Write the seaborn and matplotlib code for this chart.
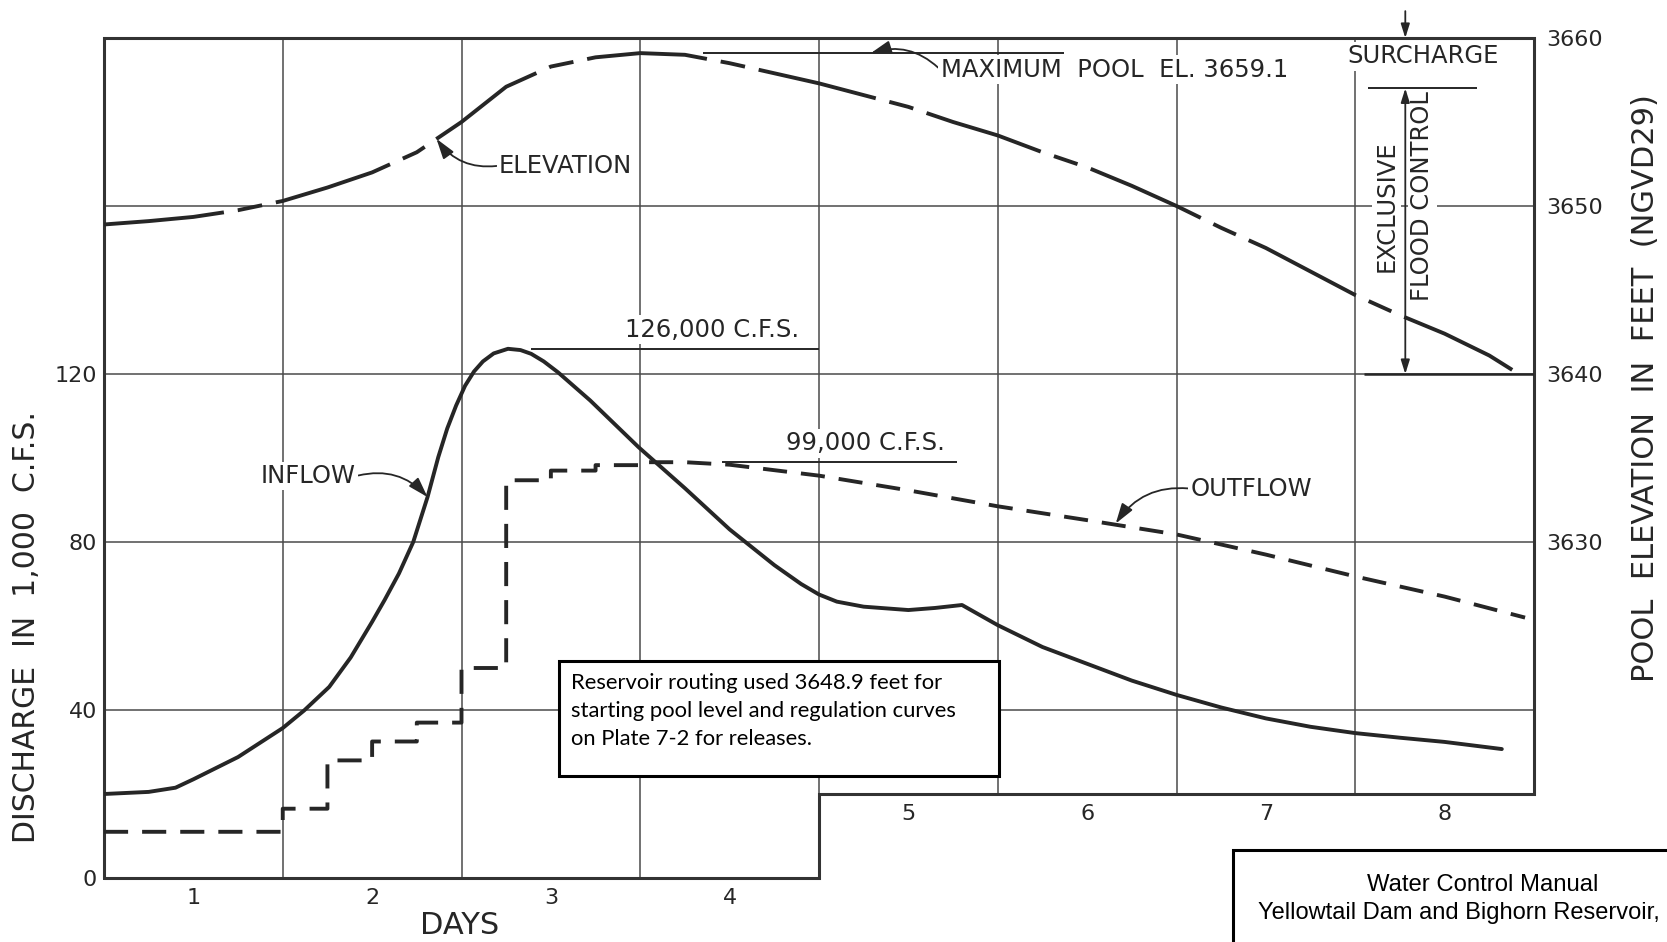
import numpy as np
import matplotlib
matplotlib.use("Agg")
import matplotlib.pyplot as plt
from matplotlib.patches import Rectangle
import seaborn as sns

# ---------------- hydrograph data ----------------
# Inflow, 1,000 c.f.s.
inflow_day = [0.5, 0.75, 0.9, 1.0, 1.25, 1.5, 1.62, 1.76, 1.88, 2.0, 2.07, 2.15, 2.23,
              2.31, 2.37, 2.42, 2.47, 2.52, 2.57, 2.62, 2.68, 2.76, 2.83, 2.89, 2.96,
              3.04, 3.22, 3.49, 3.75, 4.0, 4.25, 4.4, 4.5, 4.6, 4.75, 5.0, 5.15, 5.3,
              5.5, 5.75, 6.0, 6.25, 6.5, 6.75, 7.0, 7.25, 7.5, 7.75, 8.0, 8.32]
inflow_kcfs = [20, 20.5, 21.5, 23.5, 28.8, 35.7, 39.9, 45.5, 52.5, 61, 66.2, 72.5, 80,
               90.7, 100.2, 107, 112.5, 117.2, 120.6, 123, 124.9, 126, 125.7, 124.8, 123,
               120.4, 113.7, 102.6, 92.8, 83, 74.5, 70, 67.5, 65.8, 64.6, 63.8, 64.3, 65,
               60.2, 55, 51, 47, 43.6, 40.6, 38, 36, 34.5, 33.4, 32.4, 30.7]

# Scheduled releases (stepped), 1,000 c.f.s.
release_step_day = [0.5, 1.5, 1.75, 2.0, 2.25, 2.5, 2.75, 3.0, 3.25]
release_step_kcfs = [11, 16.5, 28, 32.5, 37, 50, 94.7, 97, 98.3]
# Outflow after the release schedule levels off, 1,000 c.f.s.
outflow_day = [3.5, 3.75, 4.0, 4.5, 5.0, 5.5, 6.0, 6.5, 7.0, 7.5, 8.0, 8.45]
outflow_kcfs = [99, 99, 98.4, 95.8, 92.3, 88.5, 85.2, 81.8, 77, 71.8, 67, 62]

# Pool elevation, feet
elev_day = [0.5, 0.75, 1.0, 1.25, 1.5, 1.75, 2.0, 2.25, 2.5, 2.75, 3.0, 3.25, 3.5,
            3.75, 4.0, 4.25, 4.5, 4.75, 5.0, 5.25, 5.5, 5.75, 6.0, 6.25, 6.5,
            6.75, 7.0, 7.25, 7.5, 7.75, 8.0, 8.25, 8.4]
elev_ft = [3648.9, 3649.1, 3649.35, 3649.75, 3650.3, 3651.1, 3652.0, 3653.2, 3655.0,
           3657.1, 3658.3, 3658.85, 3659.1, 3659.0, 3658.5, 3657.9, 3657.3, 3656.6,
           3655.9, 3655.0, 3654.2, 3653.2, 3652.3, 3651.2, 3650.0, 3648.7, 3647.5,
           3646.1, 3644.7, 3643.5, 3642.4, 3641.1, 3640.1]

inflow_peak = 126      # 1,000 c.f.s.
outflow_peak = 99      # 1,000 c.f.s.
max_pool = 3659.1      # ft
flood_bottom = 3640    # ft
flood_top = 3657       # ft

day_labels = ["1", "2", "3", "4", "5", "6", "7", "8"]
day_ticks = [1, 2, 3, 4, 5, 6, 7, 8]
discharge_ticks = [0, 40, 80, 120]
elev_ticks = [3630, 3640, 3650, 3660]

# ---------------- style ----------------
sns.set_theme(style="white")
plt.rcParams["font.family"] = ["DejaVu Sans"]
ink = "#262626"
grid_ink = "#4a4a4a"
label_font = 17.5
tick_font = 16

W, H = 1667, 942
fig = plt.figure(figsize=(W / 100, H / 100), dpi=100)
fig.patch.set_facecolor("white")

ax = fig.add_axes([104 / W, (H - 878) / H, 1430 / W, 840 / H])
ax2 = ax.twinx()

x_lo, x_hi, x_break = 0.5, 8.5, 4.5
q_top, q_floor_right = 200, 20
ax.set_xlim(x_lo, x_hi)
ax.set_ylim(0, q_top)
ax2.set_ylim(3610, 3660)
for a in (ax, ax2):
    for s in a.spines.values():
        s.set_visible(False)

# grid and stepped frame
grid_days = np.arange(1.5, x_hi, 1.0)
grid_bottoms = np.where(grid_days <= x_break, 0, q_floor_right)
ax.vlines(grid_days, grid_bottoms, q_top, color=grid_ink, lw=1.1, zorder=1)
ax.hlines([40, 80, 120, 160], x_lo, x_hi, color=grid_ink, lw=1.1, zorder=1)
frame_x = [x_lo, x_break, x_break, x_hi, x_hi, x_lo, x_lo]
frame_y = [0, 0, q_floor_right, q_floor_right, q_top, q_top, 0]
ax.plot(frame_x, frame_y, color="#333333", lw=2.2, clip_on=False, zorder=2,
        solid_joinstyle="miter")

# ---------------- curves ----------------
sns.lineplot(x=inflow_day, y=inflow_kcfs, ax=ax, color=ink, lw=2.8,
             sort=False, estimator=None, zorder=4, solid_joinstyle="round")

out_x, out_y = [], []
for i, (d, v) in enumerate(zip(release_step_day, release_step_kcfs)):
    end = release_step_day[i + 1] if i + 1 < len(release_step_day) else outflow_day[0]
    out_x += [d, end]
    out_y += [v, v]
out_x += outflow_day
out_y += outflow_kcfs
sns.lineplot(x=out_x, y=out_y, ax=ax, color=ink, lw=2.8, linestyle=(0, (6.2, 3.6)),
             sort=False, estimator=None, zorder=4)

sns.lineplot(x=elev_day, y=elev_ft, ax=ax2, color=ink, lw=2.8,
             linestyle=(0, (31, 3.6, 6.4, 3.6)), sort=False, estimator=None, zorder=4)

# ---------------- ticks and axis labels ----------------
ax.set_xticks(day_ticks[:4])
ax.set_xticklabels(day_labels[:4])
ax.set_yticks(discharge_ticks)
ax.set_yticklabels([str(v) for v in discharge_ticks])
ax2.set_yticks(elev_ticks)
ax2.set_yticklabels([str(v) for v in elev_ticks])
ax.tick_params(axis="x", length=0, pad=7, labelsize=tick_font, labelcolor=ink)
ax.tick_params(axis="y", length=0, pad=5, labelsize=tick_font, labelcolor=ink)
ax2.tick_params(axis="y", length=0, pad=9, labelsize=tick_font, labelcolor=ink)
for d, lab in zip(day_ticks[4:], day_labels[4:]):
    ax.annotate(lab, xy=(d, q_floor_right), xytext=(0, -7), textcoords="offset points",
                ha="center", va="top", fontsize=tick_font, color=ink)

ax.set_xlabel("DAYS", fontsize=22, color=ink)
ax.xaxis.set_label_coords((460 - 104) / 1430, (878 - 925) / 840)
ax.xaxis.label.set_va("center")
ax.set_ylabel("DISCHARGE  IN  1,000  C.F.S.", fontsize=21.5, color=ink)
ax.yaxis.label.set(rotation_mode="default", va="center", ha="center")
ax.yaxis.set_label_coords((27 - 104) / 1430, (878 - 627) / 840)
ax2.set_ylabel("POOL  ELEVATION  IN  FEET  (NGVD29)", fontsize=22, color=ink)
ax2.yaxis.label.set(rotation=90, rotation_mode="default", va="center", ha="center")
ax2.yaxis.set_label_coords((1645 - 104) / 1430, (878 - 388) / 840)

# ---------------- annotations ----------------
white = dict(boxstyle="square,pad=0.1", fc="white", ec="none")
arrow = dict(arrowstyle="-|>,head_length=0.7,head_width=0.22", color=ink, lw=1.3,
             shrinkA=0, shrinkB=0)

ax.annotate("INFLOW", xy=(2.31, 90.7), xytext=(1.91, 95.7), ha="right", va="center",
            fontsize=label_font, color=ink, bbox=white, zorder=5,
            arrowprops=dict(arrow, relpos=(1, 0.5), connectionstyle="arc3,rad=-0.3"))
ax.annotate("OUTFLOW", xy=(6.16, 84.4), xytext=(6.58, 92.7), ha="left", va="center",
            fontsize=label_font, color=ink, bbox=white, zorder=5,
            arrowprops=dict(arrow, relpos=(0, 0.5), connectionstyle="arc3,rad=0.3"))
ax2.annotate("ELEVATION", xy=(2.36, 3654.0), xytext=(2.71, 3652.4), ha="left",
             va="center", fontsize=label_font, color=ink, bbox=white, zorder=5,
             arrowprops=dict(arrow, relpos=(0, 0.5), connectionstyle="arc3,rad=-0.3"))

# peak discharge labels, each sitting on its own reference line
ax.hlines(inflow_peak, 2.89, 4.5, color=ink, lw=1.4, zorder=3)
ax.annotate(f"{inflow_peak * 1000:,} C.F.S.", xy=(3.9, inflow_peak), xytext=(0, 5),
            textcoords="offset points", ha="center", va="bottom",
            fontsize=label_font, color=ink, bbox=white, zorder=5)
ax.hlines(outflow_peak, 3.96, 5.27, color=ink, lw=1.4, zorder=3)
ax.annotate(f"{outflow_peak * 1000:,} C.F.S.", xy=(4.76, outflow_peak), xytext=(0, 5),
            textcoords="offset points", ha="center", va="bottom",
            fontsize=label_font, color=ink, bbox=white, zorder=5)

# maximum pool
ax2.hlines(max_pool, 3.85, 5.87, color=ink, lw=1.4, zorder=3)
ax2.annotate(f"MAXIMUM  POOL  EL. {max_pool}", xy=(4.79, max_pool),
             xytext=(5.18, 3658.1), ha="left", va="center", fontsize=label_font,
             color=ink, bbox=white, zorder=5,
             arrowprops=dict(arrow, relpos=(0, 0.5), connectionstyle="arc3,rad=0.3"))

# storage zones
zone_x = 7.78
ax2.text(7.88, 3658.9, "SURCHARGE", ha="center", va="center", fontsize=label_font,
         color=ink, bbox=white, zorder=5)
ax2.annotate("", xy=(zone_x, 3660), xytext=(zone_x, 3661.6), annotation_clip=False,
             arrowprops=dict(arrow), zorder=6)
ax2.hlines(flood_top, 7.57, 8.18, color=ink, lw=1.4, zorder=3)
ax2.hlines(flood_bottom, 7.55, x_hi, color=ink, lw=1.8, zorder=3)
ax2.text(7.675, 3650.0, "EXCLUSIVE", rotation=90, ha="center", va="center",
         fontsize=label_font, color=ink, bbox=white, zorder=5)
ax2.text(7.875, 3650.6, "FLOOD CONTROL", rotation=90, ha="center", va="center",
         fontsize=label_font, color=ink, bbox=white, zorder=5)
ax2.annotate("", xy=(zone_x, flood_bottom), xytext=(zone_x, flood_top),
             arrowprops=dict(arrowstyle="<|-|>,head_length=0.7,head_width=0.22",
                             color=ink, lw=1.3, shrinkA=0, shrinkB=0), zorder=6)

# ---------------- note boxes ----------------
note = Rectangle((559 / W, (H - 776) / H), 440 / W, 115 / H, transform=fig.transFigure,
                 fc="white", ec="black", lw=2.2, zorder=10)
fig.add_artist(note)
fig.text(571 / W, (H - 711) / H,
         "Reservoir routing used 3648.9 feet for\n"
         "starting pool level and regulation curves\n"
         "on Plate 7-2 for releases.",
         family=["Lato", "DejaVu Sans"], fontsize=15.8, color="black",
         ha="left", va="center", linespacing=1.5, zorder=11)

title_box = Rectangle((1233 / W, -0.05), 0.3, (H - 850) / H + 0.05,
                      transform=fig.transFigure, fc="white", ec="black", lw=2.2,
                      zorder=10)
fig.add_artist(title_box)
fig.text(1483 / W, (H - 885) / H, "Water Control Manual",
         family=["Liberation Sans", "DejaVu Sans"], fontsize=17.2, color="black",
         ha="center", va="center", zorder=11)
fig.text(1258 / W, (H - 913) / H, "Yellowtail Dam and Bighorn Reservoir,",
         family=["Liberation Sans", "DejaVu Sans"], fontsize=17.0, color="black",
         ha="left", va="center", zorder=11)

fig.savefig("out.png", dpi=100, facecolor="white")
